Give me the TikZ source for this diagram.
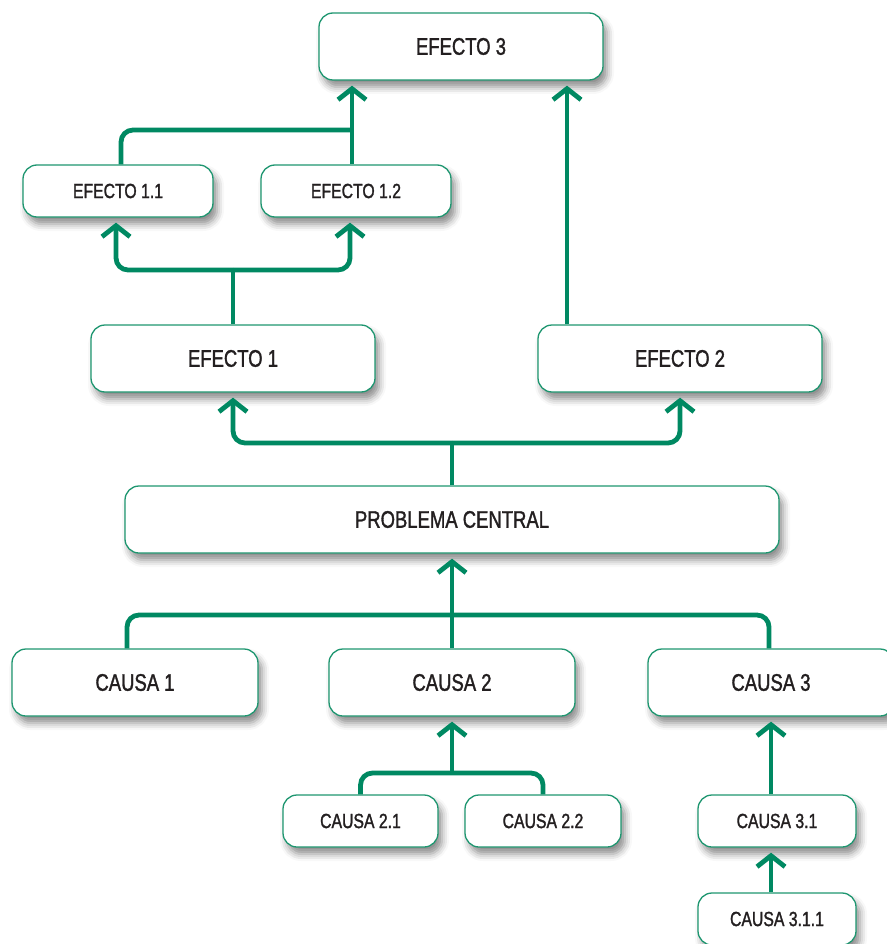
\documentclass[tikz,border=0pt]{standalone}
\usepackage{fontspec}
\setmainfont{Liberation Sans}[FakeStretch=0.77,FakeBold=1.4]
\usetikzlibrary{arrows.meta,shadows.blur}
\definecolor{linkgreen}{RGB}{0,137,98}
\definecolor{edgegreen}{RGB}{30,150,112}
\definecolor{ink}{RGB}{35,31,32}
\begin{document}
\begin{tikzpicture}[x=1pt,y=-1pt,
  box/.style={draw=edgegreen, line width=1.3pt, fill=white, rounded corners=14pt,
    text=ink, inner sep=0pt,
    blur shadow={shadow xshift=4pt, shadow yshift=-7pt, shadow blur radius=7pt, shadow opacity=45}},
  bigbox/.style={box, minimum height=67pt, font=\fontsize{24}{28}\selectfont},
  smallbox/.style={box, minimum height=52pt, font=\fontsize{20.5}{24}\selectfont},
  link/.style={draw=linkgreen, line width=4.8pt, rounded corners=12pt},
  tip/.style={link, -{Straight Barb[length=11pt,width=28pt]}, shorten >=5pt},
]
\useasboundingbox (0,0) rectangle (886,944);

% boxes
\node[bigbox, minimum width=284pt] (e3) at (461,46.5) {EFECTO 3};
\node[smallbox, minimum width=190pt] (e11) at (118,191) {EFECTO 1.1};
\node[smallbox, minimum width=190pt] (e12) at (356,191) {EFECTO 1.2};
\node[bigbox, minimum width=284pt] (e1) at (233,358.5) {EFECTO 1};
\node[bigbox, minimum width=284pt] (e2) at (680,358.5) {EFECTO 2};
\node[bigbox, minimum width=654pt] (pc) at (452,519.5) {PROBLEMA CENTRAL};
\node[bigbox, minimum width=246pt] (c1) at (135,682.5) {CAUSA 1};
\node[bigbox, minimum width=246pt] (c2) at (452,682.5) {CAUSA 2};
\node[bigbox, minimum width=246pt] (c3) at (771,682.5) {CAUSA 3};
\node[smallbox, minimum width=155pt] (c21) at (360.5,821) {CAUSA 2.1};
\node[smallbox, minimum width=156pt] (c22) at (543,821) {CAUSA 2.2};
\node[smallbox, minimum width=158pt] (c31) at (777,821) {CAUSA 3.1};
\node[smallbox, minimum width=158pt] (c311) at (777,919) {CAUSA 3.1.1};

% junction points
\coordinate (j1) at (352,130);
\coordinate (j2) at (233,270);
\coordinate (j3) at (452,443);
\coordinate (j4) at (452,615);
\coordinate (j5) at (452,773);
\coordinate (e2up) at (567,325);

% effects
\draw[link] ([xshift=3pt]e11.north) |- (j1);
\draw[tip] ([xshift=-4pt]e12.north) -- (j1 |- e3.south);
\draw[tip] (e2up |- e2.north) -- (e2up |- e3.south);
\draw[link] (e1.north) -- (j2);
\draw[tip] (j2) -| ([xshift=-2pt]e11.south);
\draw[tip] (j2) -| ([xshift=-6pt]e12.south);
\draw[link] (pc.north) -- (j3);
\draw[tip] (j3) -| (e1.south);
\draw[tip] (j3) -| (e2.south);

% causes
\draw[link] ([xshift=-8pt]c1.north) |- (j4) -| ([xshift=-2pt]c3.north);
\draw[tip] (c2.north) -- (pc.south);
\draw[link] (c21.north) |- (j5) -| (c22.north);
\draw[tip] (j5) -- (c2.south);
\draw[tip] ([xshift=-6pt]c31.north) -- (c3.south);
\draw[tip] ([xshift=-6pt]c311.north) -- ([xshift=-6pt]c31.south);
\end{tikzpicture}
\end{document}
